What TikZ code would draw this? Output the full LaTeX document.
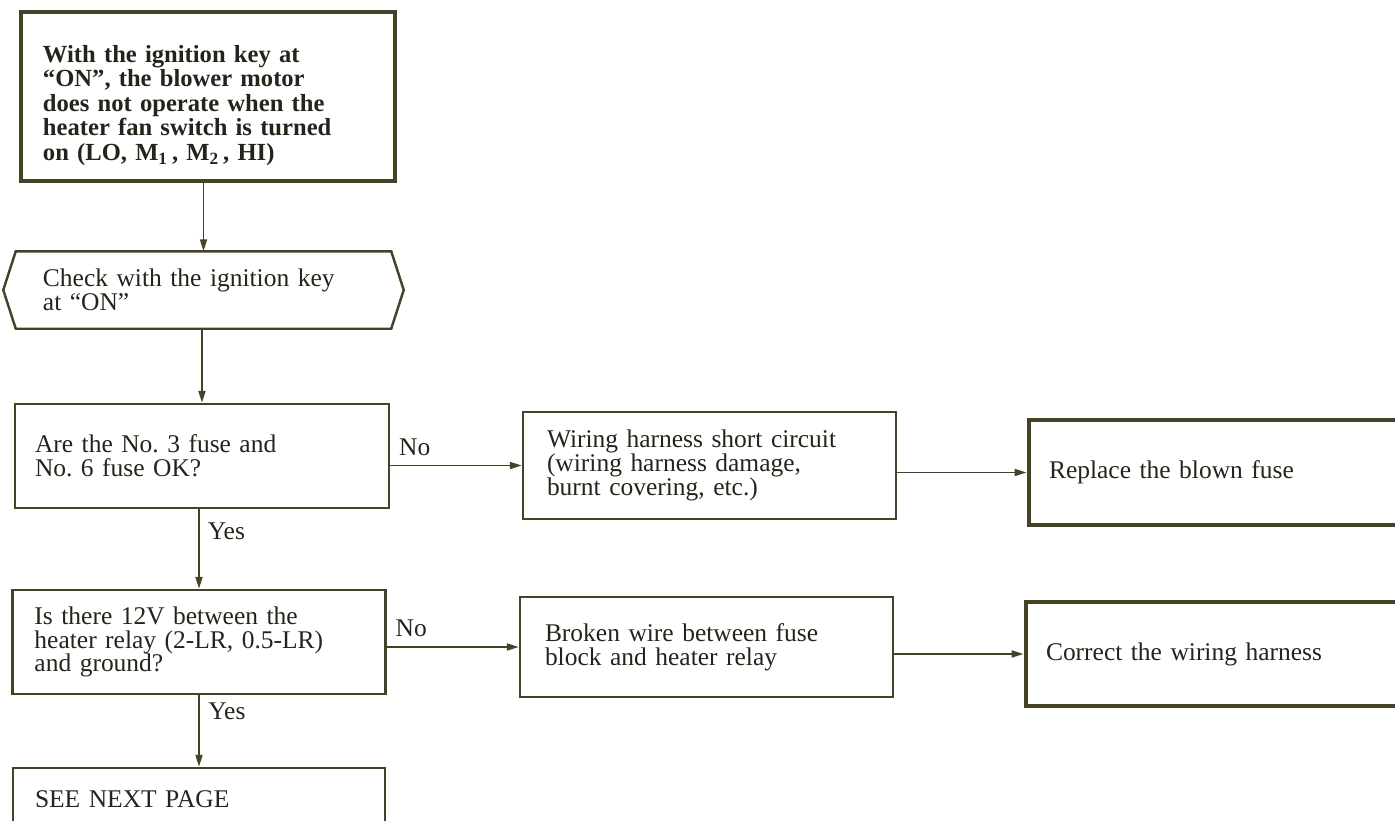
\documentclass[tikz,border=0pt]{standalone}
\usepackage{fontspec}
\setmainfont{Liberation Serif}
\usepackage{tikz}
\usetikzlibrary{arrows.meta,positioning}
\definecolor{inkline}{RGB}{70,66,38}
\definecolor{inktext}{RGB}{38,36,26}
\frenchspacing
\tikzset{
    % plain check box
    stepbox/.style={
        draw=inkline,
        line width=1.4pt,
        rectangle,
        align=left,
        inner xsep=0.44cm,
        inner ysep=0pt,
        text=inktext,
        font=\fontsize{14.5}{13.5}\selectfont
    },
    % heavy frame for symptom and remedies
    fixbox/.style={
        stepbox,
        line width=2.8pt,
        inner xsep=0.4cm
    },
    hexline/.style={
        draw=inkline,
        line width=1.4pt,
        line join=miter
    },
    flow/.style={
        line width=1pt,
        inkline,
        -{Triangle[length=6.8pt, width=4pt]}
    },
    answer/.style={
        text=inktext,
        font=\fontsize{14.5}{13.5}\selectfont,
        inner sep=2pt
    }
}

\begin{document}
\begin{tikzpicture}
    \useasboundingbox (0,0) rectangle (27.9,-16.42);
    \clip (0,0) rectangle (27.9,-16.42);

    % ===================== symptom and first check =====================
    \node[fixbox, line width=2.5pt, inner xsep=0.44cm, text width=6.6cm, minimum height=3.38cm,
          font=\bfseries\fontsize{14}{14}\selectfont] (warn) at (4.16,-1.93)
        {\rule{0pt}{0.7cm}With the ignition key at\\
         “ON”, the blower motor\\
         does not operate when the\\
         heater fan switch is turned\\
         on (LO, M\textsubscript{1}\,, M\textsubscript{2}\,, HI)};

    \node[stepbox, draw=none, inner xsep=0.52cm, text width=6.42cm, minimum height=1.5cm] (chk) at (4.07,-5.8)
        {Check with the ignition key\\ at “ON”};
    \draw[hexline] (chk.north west) -- (chk.north east) -- ([xshift=0.25cm]chk.east)
        -- (chk.south east) -- (chk.south west) -- ([xshift=-0.25cm]chk.west) -- cycle;

    % ===================== fuse check =====================
    \node[stepbox, inner xsep=0.4cm, text width=6.68cm, minimum height=2.08cm] (fuse) at (4.04,-9.12)
        {Are the No. 3 fuse and\\ No. 6 fuse OK?};
    \node[stepbox, inner xsep=0.48cm, text width=6.5cm, minimum height=2.14cm] (short) at (14.19,-9.31)
        {Wiring harness short circuit\\ (wiring harness damage,\\ burnt covering, etc.)};
    \node[fixbox, text width=7.2cm, minimum height=2.1cm] (blown) at (24.58,-9.45)
        {Replace the blown fuse};

    % ===================== relay voltage check =====================
    \node[stepbox, text width=6.58cm, minimum height=2.08cm] (volt) at (3.98,-12.84)
        {Is there 12V between the\\ heater relay (2-LR, 0.5-LR)\\ and ground?};
    \node[stepbox, inner xsep=0.5cm, text width=6.46cm, minimum height=2.0cm] (wire) at (14.13,-12.94)
        {Broken wire between fuse\\ block and heater relay};
    \node[fixbox, text width=7.2cm, minimum height=2.08cm] (harn) at (24.52,-13.08)
        {Correct the wiring harness};

    \node[stepbox, text width=6.56cm, minimum height=1.24cm] (next) at (3.98,-15.98)
        {SEE NEXT PAGE};

    % ===================== connectors =====================
    \draw[flow] (warn.south -| chk.north) -- (chk.north);
    \draw[flow] (chk.south -| fuse.north) -- (fuse.north);
    \draw[flow] (fuse.south -| volt.north) -- node[answer, pos=0, anchor=north west, xshift=0.09cm, yshift=-0.18cm] (yes1) {Yes}
        (volt.north);
    \draw[flow] (volt.south) -- node[answer, pos=0, anchor=north west, xshift=0.1cm, yshift=-0.07cm] (yes2) {Yes}
        (volt.south |- next.north);

    \draw[flow] (fuse.east |- short.west) -- node[answer, pos=0, anchor=south west, xshift=0.09cm, yshift=0.1cm] (no1) {No}
        (short.west);
    \draw[flow] (short.east |- blown.west) -- (blown.west);
    \draw[flow] (volt.east |- wire.west) -- node[answer, pos=0, anchor=south west, xshift=0.09cm, yshift=0.12cm] (no2) {No}
        (wire.west);
    \draw[flow] (wire.east |- harn.west) -- (harn.west);
\end{tikzpicture}
\end{document}
